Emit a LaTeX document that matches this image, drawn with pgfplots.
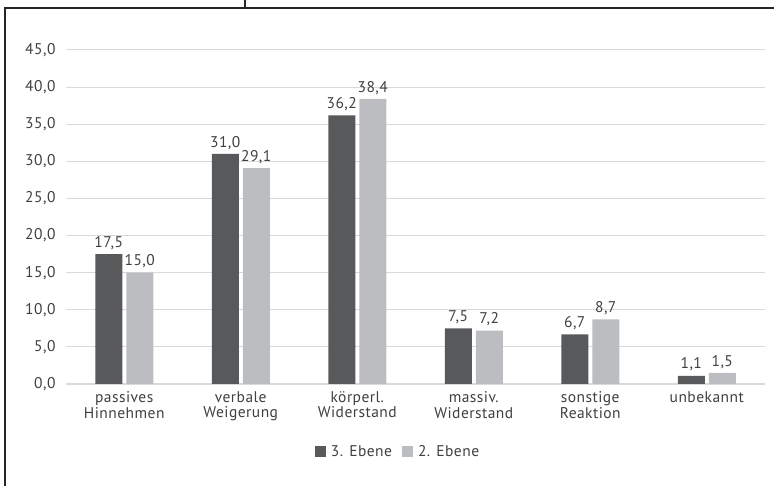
\documentclass[border=0pt]{standalone}
\usepackage{pgfplots}
\pgfplotsset{compat=1.18}
\usepackage{fontspec}
\setmainfont{PT Sans}[LetterSpace=3.0]
\definecolor{darkbar}{HTML}{58595B}
\definecolor{lightbar}{HTML}{BCBDC0}
\definecolor{gridc}{HTML}{D9D9D9}
\definecolor{txt}{HTML}{404040}
\begin{document}
\begin{tikzpicture}
\path[use as bounding box] (0pt,0pt) rectangle (774pt,486pt);
\draw[line width=1.5pt, color=black!85] (5pt,-2pt) -- (5pt,478pt) -- (776pt,478pt);
\draw[line width=1.2pt, color=black!85] (245pt,478pt) -- (245pt,488pt);
\begin{axis}[
  at={(66pt,102pt)}, anchor=south west,
  scale only axis, width=699pt, height=334pt,
  ymin=0, ymax=45, xmin=-0.5, xmax=5.5,
  ybar=4pt, bar width=27pt,
  axis line style={draw=none},
  ytick={0,5,...,45},
  ymajorgrids, grid style={gridc, line width=1pt},
  major tick length=0pt,
  xtick={0,1,2,3,4,5},
  xticklabels={{passives\\Hinnehmen},{verbale\\Weigerung},{körperl.\\Widerstand},{massiv.\\Widerstand},{sonstige\\Reaktion},{unbekannt}},
  xticklabel style={align=center, font=\fontsize{15.5}{15.5}\selectfont, text=txt, anchor=north, yshift=-4pt},
  yticklabel style={font=\fontsize{15.5}{15}\selectfont, text=txt, xshift=-7pt},
  /pgf/number format/.cd, use comma, fixed, fixed zerofill, precision=1, assume math mode=true,
  /pgfplots/.cd,
  nodes near coords,
  nodes near coords style={font=\fontsize{15.5}{15}\selectfont, text=txt, yshift=1pt},
  legend columns=-1,
  legend style={draw=none, at={(0.475,-0.204)}, anchor=center, font=\fontsize{15.5}{15}\selectfont, text=txt,
    /tikz/every even column/.append style={column sep=8pt}},
  legend image code/.code={\fill[#1] (0pt,-5pt) rectangle (11pt,6pt); \path (0pt,0pt) -- (14pt,0pt);},
  extra y ticks={0}, extra y tick labels={},
  extra y tick style={grid style={gridc, line width=2pt}},
]
\addplot[fill=darkbar, draw=none] coordinates {(0,17.5) (1,31.0) (2,36.2) (3,7.5) (4,6.7) (5,1.1)};
\addplot[fill=lightbar, draw=none] coordinates {(0,15.0) (1,29.1) (2,38.4) (3,7.2) (4,8.7) (5,1.5)};
\legend{3. Ebene, 2. Ebene}
\end{axis}
\end{tikzpicture}
\end{document}
